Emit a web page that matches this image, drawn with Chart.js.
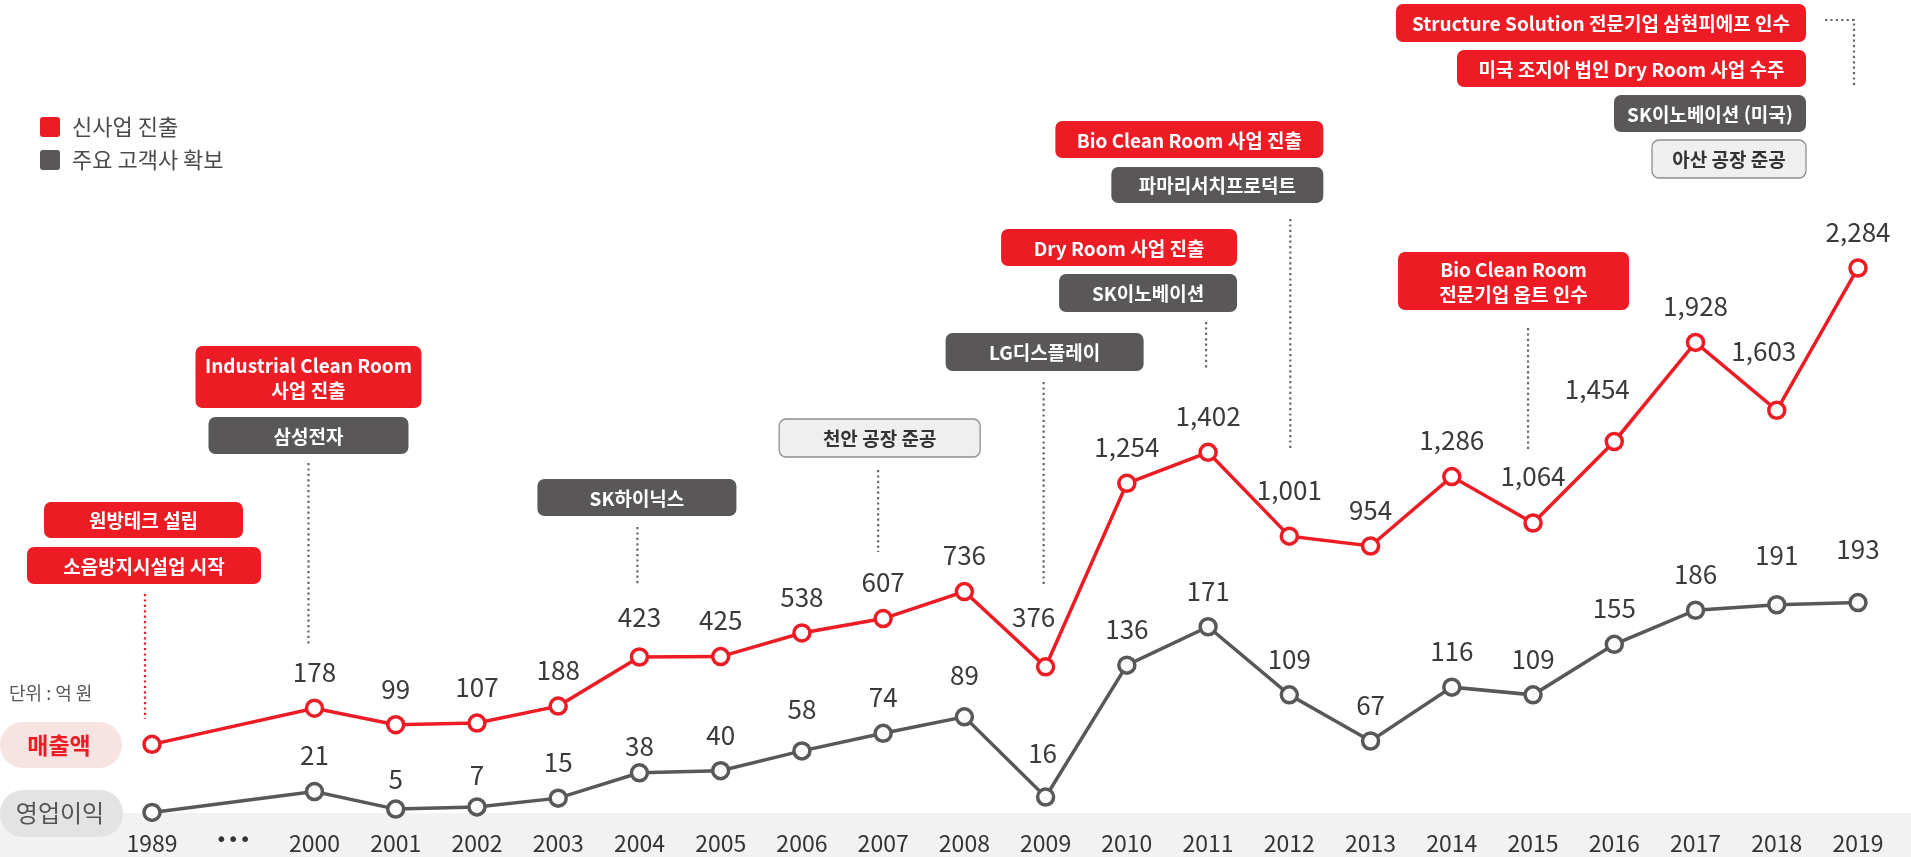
<!DOCTYPE html>
<html lang="ko">
<head>
<meta charset="utf-8">
<title>매출액 · 영업이익 추이</title>
<script src="https://cdn.jsdelivr.net/npm/chart.js@4.4.1/dist/chart.umd.min.js"></script>
<style>
  html, body { margin: 0; padding: 0; background: #fff; }
  #wrap { width: 1911px; height: 857px; }
</style>
</head>
<body>
<div id="wrap"><canvas id="chart" width="1911" height="857"></canvas></div>
<script>
// categories ("•••" stands for the skipped years 1990-1999)
const years = ["1989", "•••", "2000", "2001", "2002", "2003", "2004", "2005", "2006", "2007",
  "2008", "2009", "2010", "2011", "2012", "2013", "2014", "2015", "2016", "2017", "2018", "2019"];

// 단위 : 억 원 (1989 has no printed value, estimated from its position)
const sales = [5, null, 178, 99, 107, 188, 423, 425, 538, 607, 736, 376, 1254, 1402, 1001, 954,
  1286, 1064, 1454, 1928, 1603, 2284];
const profit = [2, null, 21, 5, 7, 15, 38, 40, 58, 74, 89, 16, 136, 171, 109, 67, 116, 109, 155,
  186, 191, 193];

const legendItems = [["신사업 진출", "new"], ["주요 고객사 확보", "client"]];

const RED = "#ed1c24";
const DARK = "#595757";
const FONT = '"Noto Sans CJK KR", "Noto Sans", sans-serif';
Chart.defaults.font.family = FONT;

// milestone boxes hanging over a category: dx = left edge relative to that category's x
const EVENTS = [
  { at: 0, stem: { dx: -7, y0: 594, y1: 719, color: RED }, boxes: [
    { text: ["원방테크 설립"], kind: "new", dx: -108, w: 199, y: 502, h: 36 },
    { text: ["소음방지시설업 시작"], kind: "new", dx: -125, w: 234, y: 547, h: 37 } ] },
  { at: 2, stem: { dx: -6, y0: 463, y1: 644 }, boxes: [
    { text: ["Industrial Clean Room", "사업 진출"], kind: "new", dx: -119, w: 226, y: 346, h: 62 },
    { text: ["삼성전자"], kind: "client", dx: -106, w: 200, y: 417, h: 37 } ] },
  { at: 6, stem: { dx: -2, y0: 527, y1: 585 }, boxes: [
    { text: ["SK하이닉스"], kind: "client", dx: -102, w: 199, y: 479, h: 37 } ] },
  { at: 9, stem: { dx: -5, y0: 470, y1: 552 }, boxes: [
    { text: ["천안 공장 준공"], kind: "plant", dx: -104, w: 201, y: 419, h: 38 } ] },
  { at: 11, stem: { dx: -2, y0: 382, y1: 585 }, boxes: [
    { text: ["LG디스플레이"], kind: "client", dx: -100, w: 198, y: 333, h: 38 } ] },
  { at: 13, stem: { dx: -2, y0: 322, y1: 368 }, boxes: [
    { text: ["Dry Room 사업 진출"], kind: "new", dx: -207, w: 236, y: 229, h: 37 },
    { text: ["SK이노베이션"], kind: "client", dx: -149, w: 178, y: 274, h: 38 } ] },
  { at: 14, stem: { dx: 1, y0: 219, y1: 451 }, boxes: [
    { text: ["Bio Clean Room 사업 진출"], kind: "new", dx: -234, w: 268, y: 121, h: 37 },
    { text: ["파마리서치프로덕트"], kind: "client", dx: -178, w: 212, y: 167, h: 36 } ] },
  { at: 17, stem: { dx: -5, y0: 328, y1: 451 }, boxes: [
    { text: ["Bio Clean Room", "전문기업 옵트 인수"], kind: "new", dx: -135, w: 231, y: 252, h: 58 } ] },
  { at: 21, elbow: { dx0: -33, dx1: -4, y0: 20, y1: 88 }, boxes: [
    { text: ["Structure Solution 전문기업 삼현피에프 인수"], kind: "new", dx: -462, w: 410, y: 4, h: 38 },
    { text: ["미국 조지아 법인 Dry Room 사업 수주"], kind: "new", dx: -401, w: 349, y: 50, h: 37 },
    { text: ["SK이노베이션 (미국)"], kind: "client", dx: -244, w: 192, y: 95, h: 37 },
    { text: ["아산 공장 준공"], kind: "plant", dx: -206, w: 154, y: 140, h: 38 } ] }
];

// value labels sit 36px above the point, except these (dx, dy)
const salesShift = { 6: [0, -40], 11: [-12, -50], 14: [0, -46], 17: [0, -47], 18: [-17, -52], 20: [-13, -59] };
const profitShift = { 3: [0, -30], 4: [0, -32], 6: [0, -27], 8: [0, -42], 10: [0, -42], 11: [-3, -44], 20: [0, -50], 21: [0, -53] };

const KIND = {
  new: { fill: RED, text: "#fff" },
  client: { fill: DARK, text: "#fff" },
  plant: { fill: "#efefef", text: "#333", stroke: "#8f8f8f" }
};

function rrect(ctx, x, y, w, h, r) {
  ctx.beginPath();
  ctx.moveTo(x + r, y);
  ctx.arcTo(x + w, y, x + w, y + h, r);
  ctx.arcTo(x + w, y + h, x, y + h, r);
  ctx.arcTo(x, y + h, x, y, r);
  ctx.arcTo(x, y, x + w, y, r);
  ctx.closePath();
}

function dotted(ctx, pts, color) {
  ctx.save();
  ctx.strokeStyle = color || "#666";
  ctx.lineWidth = 2.2;
  ctx.setLineDash([2.2, 3.2]);
  ctx.beginPath();
  ctx.moveTo(pts[0][0], pts[0][1]);
  for (let k = 1; k < pts.length; k++) ctx.lineTo(pts[k][0], pts[k][1]);
  ctx.stroke();
  ctx.restore();
}

const decor = {
  id: "decor",
  beforeDraw(chart) {
    const ctx = chart.ctx;
    const xs = chart.scales.x;
    ctx.save();
    ctx.fillStyle = "#fff";
    ctx.fillRect(0, 0, chart.width, chart.height);

    // band behind the years
    ctx.fillStyle = "#f2f2f2";
    ctx.fillRect(0, 813, chart.width, chart.height - 813);

    // series pills on the left
    ctx.fillStyle = "#f8e3e3";
    rrect(ctx, 0, 722, 122, 46, 23); ctx.fill();
    ctx.fillStyle = "#e3e3e3";
    rrect(ctx, 0, 790, 123, 47, 23); ctx.fill();
    ctx.textAlign = "center";
    ctx.textBaseline = "middle";
    ctx.fillStyle = RED;
    ctx.font = "bold 23px " + FONT;
    ctx.fillText("매출액", 59, 745);
    ctx.fillStyle = "#555";
    ctx.font = "24px " + FONT;
    ctx.fillText("영업이익", 60, 813);

    ctx.textAlign = "left";
    ctx.fillStyle = "#555";
    ctx.font = "18px " + FONT;
    ctx.fillText("단위 : 억 원", 9, 693);

    // legend
    legendItems.forEach(([name, kind], k) => {
      const y = 117 + k * 33;
      ctx.fillStyle = KIND[kind].fill;
      rrect(ctx, 40, y, 20, 20, 3); ctx.fill();
      ctx.fillStyle = "#4a4a4a";
      ctx.font = "22px " + FONT;
      ctx.fillText(name, 72, y + 10);
    });

    // milestones
    EVENTS.forEach(ev => {
      const cx = xs.getPixelForValue(ev.at);
      if (ev.stem) {
        const sx = cx + ev.stem.dx;
        dotted(ctx, [[sx, ev.stem.y0], [sx, ev.stem.y1]], ev.stem.color);
      }
      if (ev.elbow) {
        const e = ev.elbow;
        dotted(ctx, [[cx + e.dx0, e.y0], [cx + e.dx1, e.y0], [cx + e.dx1, e.y1]]);
      }
      ev.boxes.forEach(b => {
        const st = KIND[b.kind];
        const x = cx + b.dx;
        rrect(ctx, x, b.y, b.w, b.h, 7);
        ctx.fillStyle = st.fill;
        ctx.fill();
        if (st.stroke) { ctx.strokeStyle = st.stroke; ctx.lineWidth = 1.3; ctx.stroke(); }
        ctx.fillStyle = st.text;
        ctx.font = "bold 19px " + FONT;
        ctx.textAlign = "center";
        const lh = 25;
        const y0 = b.y + b.h / 2 - (b.text.length - 1) * lh / 2;
        b.text.forEach((t, k) => ctx.fillText(t, x + b.w / 2, y0 + k * lh + 1));
      });
    });
    ctx.restore();
  },
  afterDatasetsDraw(chart) {
    const ctx = chart.ctx;
    ctx.save();
    ctx.font = "26px " + FONT;
    ctx.fillStyle = "#3a3a3a";
    ctx.textAlign = "center";
    ctx.textBaseline = "middle";
    [[0, salesShift], [1, profitShift]].forEach(([di, shift]) => {
      const meta = chart.getDatasetMeta(di);
      const values = chart.data.datasets[di].data;
      meta.data.forEach((pt, i) => {
        if (i === 0 || values[i] == null) return;
        const s = shift[i] || [0, -36];
        ctx.fillText(values[i].toLocaleString("en-US"), pt.x + s[0], pt.y + s[1]);
      });
    });
    ctx.restore();
  }
};

const ctx = document.getElementById("chart").getContext("2d");
const chart = new Chart(ctx, {
  type: "line",
  data: {
    labels: years,
    datasets: [
      {
        label: "매출액",
        data: sales,
        yAxisID: "ySales",
        borderColor: RED,
        borderWidth: 3.5,
        pointRadius: 8,
        pointBorderWidth: 3.5,
        pointBackgroundColor: "#fff",
        pointBorderColor: RED,
        spanGaps: true,
        clip: false,
        tension: 0
      },
      {
        label: "영업이익",
        data: profit,
        yAxisID: "yProfit",
        borderColor: DARK,
        borderWidth: 3.5,
        pointRadius: 8,
        pointBorderWidth: 3.5,
        pointBackgroundColor: "#fafafa",
        pointBorderColor: DARK,
        spanGaps: true,
        clip: false,
        tension: 0
      }
    ]
  },
  options: {
    responsive: false,
    animation: false,
    layout: { padding: { left: 152, right: 53, top: 0, bottom: 0 } },
    plugins: {
      legend: { display: false },
      tooltip: { enabled: false }
    },
    scales: {
      x: {
        grid: { display: false, drawTicks: false },
        border: { display: false },
        ticks: {
          color: "#333",
          font: c => c.index === 1 ? { family: "DejaVu Sans", size: 20 } : { size: 23 },
          padding: 10, maxRotation: 0, autoSkip: false
        },
        afterFit: scale => { scale.height = 38; }
      },
      // two independent value axes, hidden (the picture has no y axis)
      ySales: { display: false, min: -352, max: 3511 },
      yProfit: { display: false, min: -4, max: 731 }
    }
  },
  plugins: [decor]
});
</script>
</body>
</html>
